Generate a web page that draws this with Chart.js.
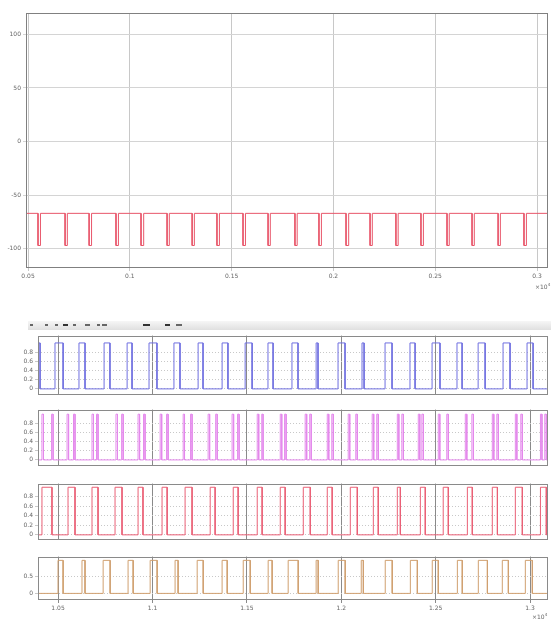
<!DOCTYPE html>
<html>
<head>
<meta charset="utf-8">
<script src="https://cdn.jsdelivr.net/npm/chart.js@4.4.1/dist/chart.umd.min.js"></script>
<style>
  html, body { margin: 0; padding: 0; background: #fff; }
  body { width: 551px; height: 622px; position: relative; overflow: hidden; font-family: "DejaVu Sans", sans-serif; }
  canvas { position: absolute; left: 0; }
  .exp { position: absolute; font-size: 6px; color: #666; line-height: 6px; white-space: nowrap; }
  #bar { position: absolute; left: 28px; top: 321px; width: 523px; height: 9px; background: linear-gradient(#f6f6f6, #e0e0e0); }
  #bar span { position: absolute; top: 3px; height: 2px; background: #666; }
</style>
</head>
<body>
<canvas id="topChart" width="551" height="295" style="top:0px"></canvas>

<div id="bar">
  <span style="left:2px;width:3px"></span>
  <span style="left:17px;width:3px"></span>
  <span style="left:27px;width:3px"></span>
  <span style="left:35px;width:5px;background:#333"></span>
  <span style="left:45px;width:3px"></span>
  <span style="left:57px;width:5px"></span>
  <span style="left:69px;width:3px"></span>
  <span style="left:74px;width:5px"></span>
  <span style="left:115px;width:7px;background:#333"></span>
  <span style="left:137px;width:5px;background:#333"></span>
  <span style="left:148px;width:6px"></span>
</div>

<canvas id="gateA" width="551" height="70" style="top:330px"></canvas>
<canvas id="gateB" width="551" height="67" style="top:404px"></canvas>
<canvas id="gateC" width="551" height="67" style="top:478px"></canvas>
<canvas id="gateD" width="551" height="71" style="top:551px"></canvas>

<div class="exp" style="left:535px;top:282px">×10<sup style="font-size:4px">4</sup></div>
<div class="exp" style="left:532px;top:612px">×10<sup style="font-size:4px">4</sup></div>

<script>
// ---- upper trace: level with periodic negative dips ----
const topTimeTicks  = [0.05, 0.1, 0.15, 0.2, 0.25, 0.3];
const topTimeLabels = ['0.05', '0.1', '0.15', '0.2', '0.25', '0.3'];
const topLevelTicks = [-100, -50, 0, 50, 100];
const topBaseLevel = -67;
const topDipLevel  = -97;
const topDipStart = [0.0549, 0.0682, 0.0800, 0.0932, 0.1055, 0.1183, 0.1306, 0.1428, 0.1556, 0.1679,
                     0.1811, 0.1929, 0.2062, 0.2180, 0.2307, 0.2430, 0.2558, 0.2681, 0.2809, 0.2936];
const topDipEnd   = [0.0561, 0.0693, 0.0812, 0.0944, 0.1068, 0.1194, 0.1317, 0.1440, 0.1568, 0.1690,
                     0.1822, 0.1941, 0.2075, 0.2191, 0.2318, 0.2442, 0.2569, 0.2692, 0.2820, 0.2948];

// ---- lower panels: four switching signals (0 / 1) ----
const gateTimeTicks  = [1.05, 1.1, 1.15, 1.2, 1.25, 1.3];
const gateTimeLabels = ['1.05', '1.1', '1.15', '1.2', '1.25', '1.3'];
const gateTicks      = [0, 0.2, 0.4, 0.6, 0.8];
const gateTicksShort = [0, 0.5];
const gateLow  = 0;
const gateHigh = 1;

const blueRise = [1.0384, 1.0484, 1.0611, 1.0744, 1.0866, 1.0982, 1.1114, 1.1242, 1.1369, 1.1491, 1.1612,
                  1.1739, 1.1867, 1.1983, 1.2110, 1.2232, 1.2364, 1.2481, 1.2613, 1.2725, 1.2857, 1.2984];
const blueFall = [1.0405, 1.0527, 1.0643, 1.0775, 1.0892, 1.1024, 1.1146, 1.1268, 1.1400, 1.1528, 1.1639,
                  1.1771, 1.1877, 1.2020, 1.2121, 1.2269, 1.2391, 1.2523, 1.2640, 1.2762, 1.2894, 1.3016];

const magentaRise = [1.0415, 1.0466, 1.0548, 1.0582, 1.0680, 1.0704, 1.0807, 1.0837, 1.0924, 1.0953, 1.1041,
                     1.1075, 1.1163, 1.1202, 1.1295, 1.1335, 1.1422, 1.1451, 1.1555, 1.1579, 1.1677, 1.1700,
                     1.1809, 1.1833, 1.1926, 1.1950, 1.2037, 1.2077, 1.2164, 1.2188, 1.2297, 1.2321, 1.2408,
                     1.2427, 1.2514, 1.2559, 1.2657, 1.2692, 1.2800, 1.2824, 1.2922, 1.2951, 1.3055, 1.3078];
const magentaFall = [1.0423, 1.0474, 1.0556, 1.0590, 1.0688, 1.0712, 1.0815, 1.0845, 1.0932, 1.0961, 1.1049,
                     1.1083, 1.1170, 1.1210, 1.1303, 1.1343, 1.1430, 1.1459, 1.1563, 1.1586, 1.1685, 1.1708,
                     1.1817, 1.1841, 1.1934, 1.1958, 1.2045, 1.2085, 1.2172, 1.2196, 1.2305, 1.2329, 1.2416,
                     1.2435, 1.2522, 1.2567, 1.2665, 1.2700, 1.2808, 1.2832, 1.2930, 1.2959, 1.3063, 1.3086];

const redRise = [1.0415, 1.0553, 1.0680, 1.0802, 1.0924, 1.1051, 1.1173, 1.1306, 1.1428, 1.1555, 1.1677,
                 1.1799, 1.1926, 1.2048, 1.2170, 1.2297, 1.2419, 1.2540, 1.2668, 1.2800, 1.2922, 1.3055];
const redFall = [1.0468, 1.0590, 1.0712, 1.0839, 1.0950, 1.1078, 1.1210, 1.1332, 1.1454, 1.1581, 1.1703,
                 1.1836, 1.1952, 1.2085, 1.2196, 1.2313, 1.2445, 1.2567, 1.2694, 1.2827, 1.2959, 1.3086];

const orangeRise = [1.0500, 1.0627, 1.0739, 1.0871, 1.0988, 1.1120, 1.1237, 1.1369, 1.1481, 1.1613, 1.1719,
                    1.1867, 1.1984, 1.2106, 1.2233, 1.2366, 1.2482, 1.2615, 1.2726, 1.2853, 1.2975];
const orangeFall = [1.0527, 1.0643, 1.0776, 1.0898, 1.1025, 1.1136, 1.1269, 1.1396, 1.1518, 1.1634, 1.1772,
                    1.1878, 1.2021, 1.2117, 1.2270, 1.2403, 1.2514, 1.2641, 1.2774, 1.2885, 1.3012];

// Turn edge lists into a rectangular pulse trace
function pulseTrace(rise, fall, rest, active, xMin, xMax) {
  const pts = [{ x: xMin, y: rest }];
  rise.forEach((r, i) => {
    pts.push({ x: r, y: rest }, { x: r, y: active }, { x: fall[i], y: active }, { x: fall[i], y: rest });
  });
  pts.push({ x: xMax, y: rest });
  return pts;
}

// Frame drawn around each plot area
const boxPlugin = {
  id: 'box',
  afterDraw(chart, args, opts) {
    const { ctx, chartArea: a } = chart;
    ctx.save();
    ctx.strokeStyle = opts.color || '#777';
    ctx.lineWidth = 1;
    ctx.strokeRect(Math.round(a.left) + 0.5, Math.round(a.top) + 0.5,
                   Math.round(a.right - a.left) - 1, Math.round(a.bottom - a.top) - 1);
    ctx.restore();
  }
};

const tickFont = { size: 6, family: 'DejaVu Sans' };

function panel(id, o) {
  return new Chart(document.getElementById(id), {
    type: 'scatter',
    data: {
      datasets: [{
        data: o.points, showLine: true, borderColor: o.color, borderWidth: 1,
        pointRadius: 0, tension: 0, fill: false
      }]
    },
    options: {
      responsive: false, animation: false, devicePixelRatio: 1,
      layout: { padding: { top: o.padTop, right: 3, left: 0, bottom: 0 } },
      plugins: { legend: { display: false }, tooltip: { enabled: false }, box: { color: o.boxColor } },
      scales: {
        x: {
          type: 'linear', min: o.xMin, max: o.xMax,
          afterBuildTicks: s => { s.ticks = o.xTicks.map(v => ({ value: v })); },
          afterFit: s => { s.height = o.xHeight; },
          ticks: {
            display: o.xLabels, autoSkip: false, maxRotation: 0, padding: 2,
            font: tickFont, color: '#666',
            callback: (v, i) => o.xTickLabels[i]
          },
          grid: { color: o.xGrid, lineWidth: 1, drawTicks: o.xLabels, tickLength: 3 },
          border: { display: false }
        },
        y: {
          type: 'linear', min: o.yMin, max: o.yMax,
          afterBuildTicks: s => { s.ticks = o.yTicks.map(v => ({ value: v })); },
          afterFit: s => { s.width = o.yWidth; },
          ticks: {
            autoSkip: false, padding: 2, font: tickFont, color: '#666',
            callback: v => String(v)
          },
          grid: { color: o.yGrid, lineWidth: 1, tickLength: 3 },
          border: { display: false, dash: o.yDash || [] }
        }
      }
    },
    plugins: [boxPlugin]
  });
}

const topMin = 0.049, topMax = 0.3054;
panel('topChart', {
  points: pulseTrace(topDipStart, topDipEnd, topBaseLevel, topDipLevel, topMin, topMax),
  color: '#e8566a', boxColor: '#808080',
  padTop: 13, xHeight: 27, yWidth: 26,
  xMin: topMin, xMax: topMax, xTicks: topTimeTicks, xTickLabels: topTimeLabels, xLabels: true,
  xGrid: '#c8c8c8',
  yMin: -118, yMax: 120, yTicks: topLevelTicks, yGrid: '#d4d4d4'
});

const gMin = 1.0394, gMax = 1.3095;
const common = {
  padTop: 3, yWidth: 38, xMin: gMin, xMax: gMax,
  xTicks: gateTimeTicks, xTickLabels: gateTimeLabels,
  xGrid: '#8a8a8a', yGrid: '#c8c8c8', yDash: [1, 2], boxColor: '#8a8a8a'
};

panel('gateA', Object.assign({}, common, {
  points: pulseTrace(blueRise, blueFall, gateLow, gateHigh, gMin, gMax),
  color: '#7070e0', xHeight: 3, xLabels: false,
  yMin: -0.12, yMax: 1.16, yTicks: gateTicks
}));

panel('gateB', Object.assign({}, common, {
  points: pulseTrace(magentaRise, magentaFall, gateLow, gateHigh, gMin, gMax),
  color: '#e488ec', xHeight: 3, xLabels: false,
  yMin: -0.12, yMax: 1.1, yTicks: gateTicks
}));

panel('gateC', Object.assign({}, common, {
  points: pulseTrace(redRise, redFall, gateLow, gateHigh, gMin, gMax),
  color: '#ea6076', xHeight: 3, xLabels: false,
  yMin: -0.096, yMax: 1.077, yTicks: gateTicks
}));

panel('gateD', Object.assign({}, common, {
  points: pulseTrace(orangeRise, orangeFall, gateLow, gateHigh, gMin, gMax),
  color: '#d0a070', xHeight: 22, xLabels: true,
  yMin: -0.2, yMax: 1.114, yTicks: gateTicksShort
}));
</script>
</body>
</html>
